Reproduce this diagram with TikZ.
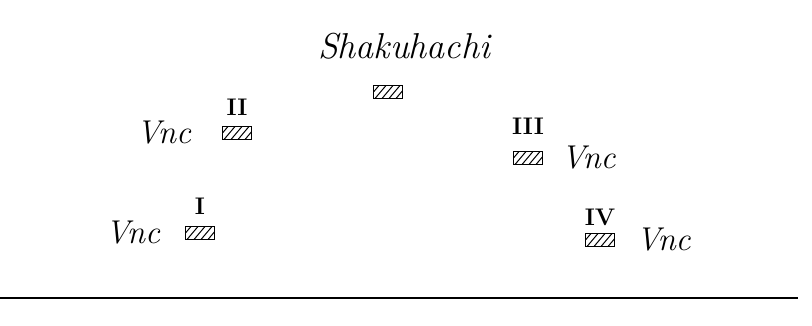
\documentclass[tikz,border=0pt]{standalone}
\usetikzlibrary{positioning}
\begin{document}
\begin{tikzpicture}[x=1pt,y=-1pt,line width=1.4pt,
  seat/.style={draw,line width=1.7pt,minimum width=29pt,minimum height=13pt,inner sep=0pt,
    path picture={\foreach \k in {-2,...,2}{\draw[line width=1pt]
      ([xshift=\k*7pt-6pt]path picture bounding box.south) -- ++(11pt,13pt);}}},
  numeral/.style={font=\fontsize{24}{24}\selectfont\bfseries,inner sep=0pt},
  player/.style={font=\fontsize{33}{33}\selectfont\itshape,inner sep=0pt}]
\useasboundingbox (0,0) rectangle (812,326);
% soloist
\node[font=\fontsize{36}{36}\selectfont\itshape] (shaku) at (404,46) {Shakuhachi};
\node[seat] (s0) at (388,92) {};
% cellos
\node[seat] (s2) at (237,133) {};
\node[numeral,above=9pt of s2] (n2) {II};
\node[player,left=30pt of s2] (v2) {Vnc};
\node[seat] (s3) at (528,158) {};
\node[numeral,above=15pt of s3] (n3) {III};
\node[player,right=17pt of s3] (v3) {Vnc};
\node[seat] (s1) at (200,233) {};
\node[numeral,above=10pt of s1] (n1) {I};
\node[player,left=24pt of s1] (v1) {Vnc};
\node[seat] (s4) at (600,240) {};
\node[numeral,above=6pt of s4] (n4) {IV};
\node[player,right=20pt of s4] (v4) {Vnc};
% floor line
\draw[line width=1.6pt] (0,298) -- (798,298);
\end{tikzpicture}
\end{document}
